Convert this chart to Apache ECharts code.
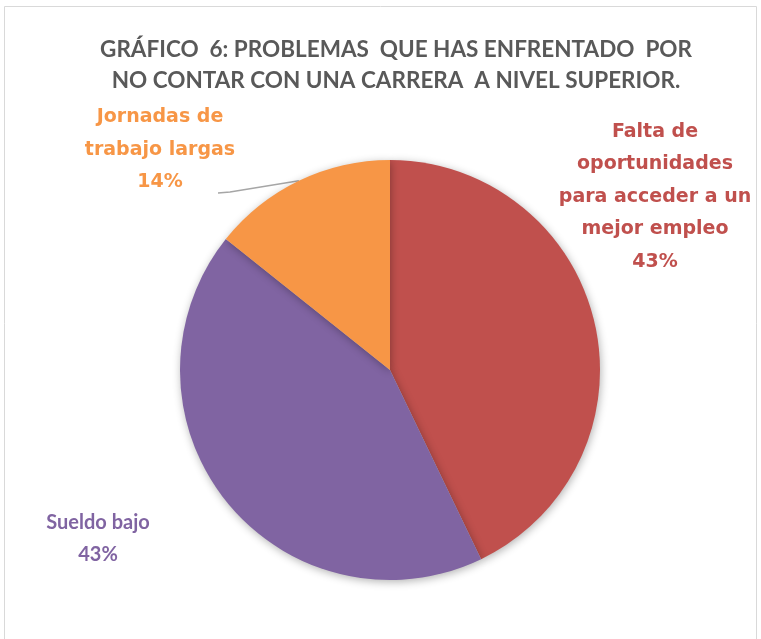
<!DOCTYPE html>
<html><head><meta charset="utf-8">
<script src="https://cdn.jsdelivr.net/npm/echarts@6/dist/echarts.min.js"></script>
<style>html,body{margin:0;padding:0;background:#fff}#c{width:761px;height:639px}</style>
</head><body><div id="c"></div>
<script>
var titleText = 'GRÁFICO  6: PROBLEMAS  QUE HAS ENFRENTADO  POR\nNO CONTAR CON UNA CARRERA  A NIVEL SUPERIOR.';
var categories = ['Falta de\noportunidades\npara acceder a un\nmejor empleo', 'Sueldo bajo', 'Jornadas de\ntrabajo largas'];
var values = [3, 3, 1];
var colors = ['#C0504D', '#8064A2', '#F79646'];

var labelPos = [
  {x: 655, y: 197, font: 'DejaVu Sans', size: 19, lh: 32.5},
  {x: 98, y: 539, font: 'Lato', size: 20, lh: 32},
  {x: 160, y: 150, font: 'DejaVu Sans', size: 19, lh: 32.5}
];

var chart = echarts.init(document.getElementById('c'));
chart.setOption({
  animation: false,
  graphic: [{
    type: 'rect', shape: {x: 4.5, y: 6.5, width: 752, height: 700},
    style: {fill: 'none', stroke: '#d9d9d9', lineWidth: 1}
  }],
  title: {
    text: titleText, left: 391, top: 29, textAlign: 'center',
    textStyle: {fontFamily: 'Lato', fontWeight: 'bold', fontSize: 22.5, color: '#595959', lineHeight: 31}
  },
  series: [{
    type: 'pie',
    center: [390, 370],
    radius: 210,
    startAngle: 90,
    clockwise: true,
    data: categories.map(function (c, i) {
      return {
        name: c, value: values[i],
        itemStyle: {color: colors[i]},
        label: {color: colors[i], fontFamily: labelPos[i].font, fontSize: labelPos[i].size, lineHeight: labelPos[i].lh},
        labelLine: {show: i === 2, lineStyle: {color: '#A6A6A6', width: 1.5}}
      };
    }),
    itemStyle: {shadowBlur: 8, shadowColor: 'rgba(0,0,0,0.3)', shadowOffsetX: 1, shadowOffsetY: 2},
    label: {
      show: true, position: 'outside', fontWeight: 'bold', align: 'center', overflow: 'none',
      formatter: function (p) { return p.name + '\n' + Math.round(p.percent) + '%'; }
    },
    percentPrecision: 0,
    labelLayout: function (p) {
      var lp = labelPos[p.dataIndex];
      var res = {x: lp.x, y: lp.y, align: 'center', verticalAlign: 'middle'};
      if (p.dataIndex === 2 && p.labelLinePoints) {
        var s = p.labelLinePoints[0];
        res.labelLinePoints = [[s[0], s[1]], [230, 192], [218, 193]];
      }
      return res;
    }
  }]
});
</script></body></html>
